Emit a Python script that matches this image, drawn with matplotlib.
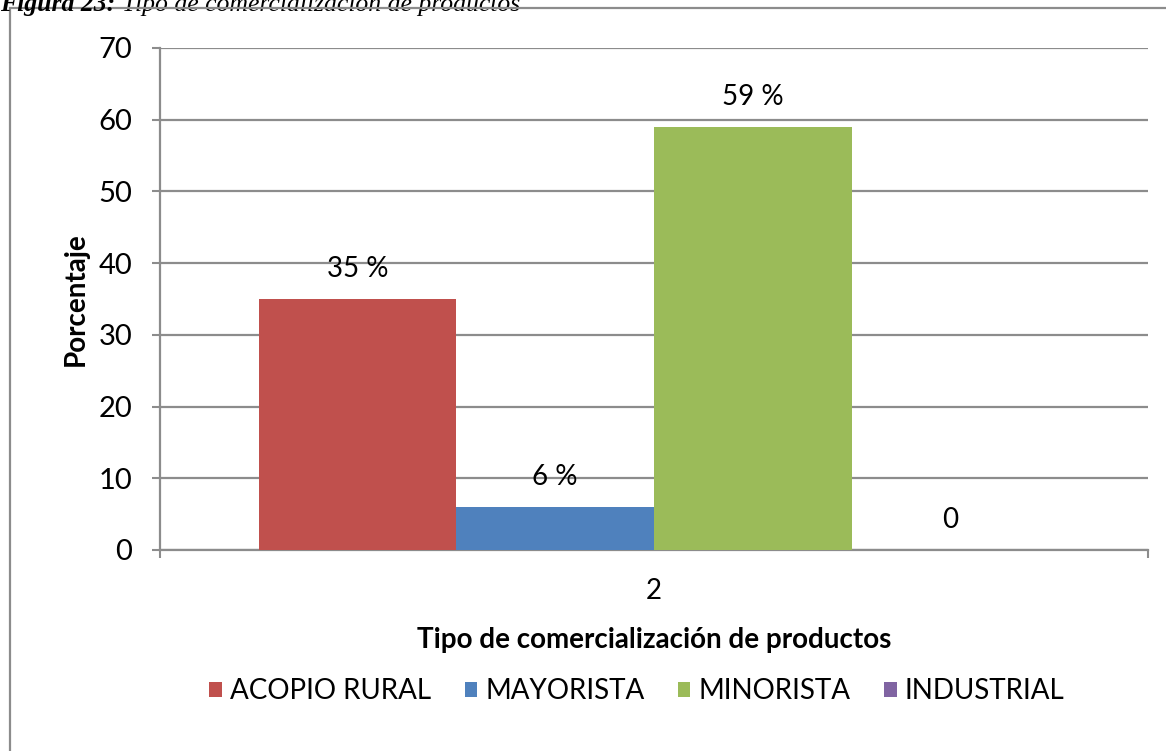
import matplotlib.pyplot as plt
from matplotlib.patches import Rectangle

categorias = ['ACOPIO RURAL', 'MAYORISTA', 'MINORISTA', 'INDUSTRIAL']
valores = [35, 6, 59, 0]
etiquetas = ['35 %', '6 %', '59 %', '0']
colores = ['#C0504D', '#4F81BD', '#9BBB59', '#8064A2']
grupo = ['2']

plt.rcParams['font.family'] = ['Lato', 'DejaVu Sans']
gris = '#8C8C8C'

fig = plt.figure(figsize=(11.66, 7.51), dpi=100)
ax = fig.add_axes([160/1166, 1-550/751, 988/1166, 502/751])

# marco exterior del grafico
fig.patches.append(Rectangle((10/1166, -0.1), 1.2, 1-8/751+0.1, transform=fig.transFigure,
                             fill=False, edgecolor=gris, linewidth=1.6))

ancho = 0.2
for i, (cat, v, et, c) in enumerate(zip(categorias, valores, etiquetas, colores)):
    x = -0.4 + ancho/2 + i*ancho
    ax.bar(x, v, width=ancho, color=c, label=cat, zorder=3)
    ax.annotate(et, (x, v), xytext=(0, 12), textcoords='offset points',
                ha='center', va='bottom', fontsize=20)

ax.set_xlim(-0.5, 0.5)
ax.set_ylim(0, 70)
ax.set_yticks(range(0, 71, 10))
ax.set_xticks([0])
ax.set_xticklabels(grupo, fontsize=20)
ax.set_xticks([-0.5, 0.5], minor=True)
ax.tick_params(axis='x', which='major', length=0, pad=20)
ax.tick_params(axis='x', which='minor', length=6, width=1.5, color=gris, direction='out')
ax.tick_params(axis='y', length=6, width=1.5, color=gris, labelsize=21, pad=14)
ax.yaxis.grid(True, color=gris, linewidth=1.6, zorder=0)
for s in ['top', 'right']:
    ax.spines[s].set_visible(False)
for s in ['left', 'bottom']:
    ax.spines[s].set_color(gris)
    ax.spines[s].set_linewidth(1.6)

ax.set_ylabel('Porcentaje', fontsize=20, fontweight='bold', labelpad=7)
ax.set_xlabel('Tipo de comercialización de productos', fontsize=20, fontweight='bold', labelpad=17)

ax.legend(loc='center', bbox_to_anchor=(477/988, -(691-550)/502), ncol=4, frameon=False,
          fontsize=20, handlelength=0.45, handleheight=0.45, handletextpad=0.3, columnspacing=1.2)

t1 = fig.text(0, 1-11/751, 'Figura 23: ', fontsize=18.5, fontweight='bold', style='italic',
              family='Liberation Serif', va='baseline', ha='left')
ax.annotate('Tipo de comercialización de productos', xy=(1, 0), xycoords=t1,
            xytext=(0, 0), textcoords='offset points', fontsize=18.5, style='italic',
            family='Liberation Serif', va='bottom', ha='left', annotation_clip=False)

fig.savefig('out.png', dpi=100)
